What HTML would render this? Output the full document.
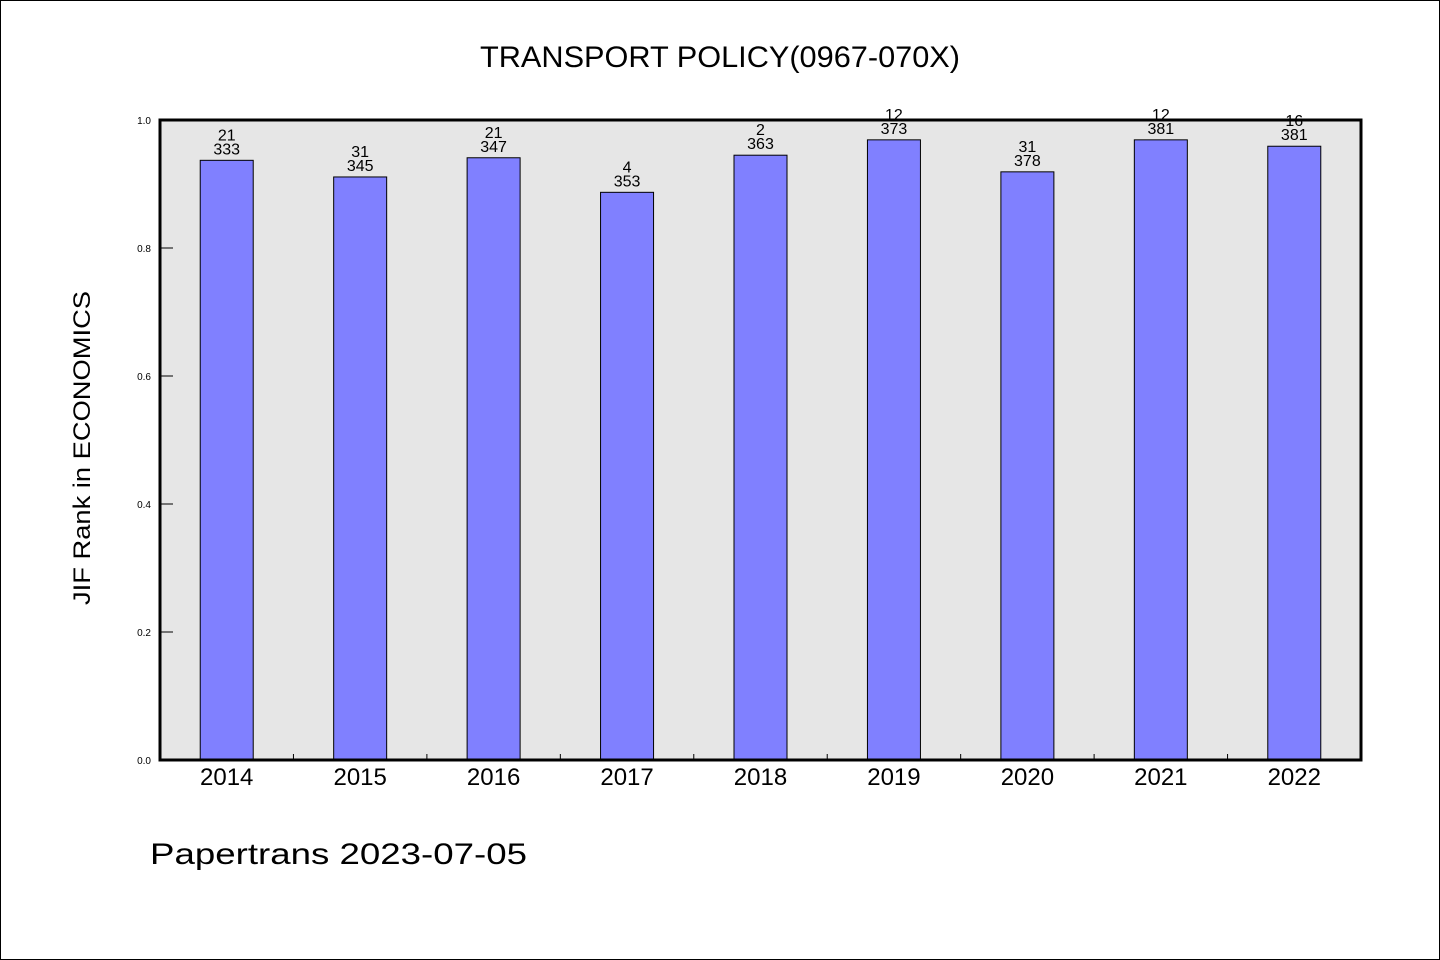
<!DOCTYPE html>
<html><head><meta charset="utf-8"><style>
html,body{margin:0;padding:0;background:#fff;}
svg{display:block;}
text{font-family:"WenQuanYi Zen Hei","Liberation Sans",sans-serif;fill:#000;}
</style></head><body>
<svg id="chart" width="1440" height="960">
<rect x="0.5" y="0.5" width="1439" height="959" fill="#fff" stroke="#000" stroke-width="1"/>
<text x="720" y="67" text-anchor="middle" font-size="30" textLength="480" lengthAdjust="spacingAndGlyphs">TRANSPORT POLICY(0967-070X)</text>
<rect x="160" y="120" width="1201" height="640" fill="#e6e6e6"/>
<g id="ticks"></g>
<g id="bars"></g>
<rect x="160" y="120" width="1201" height="640" fill="none" stroke="#000" stroke-width="3"/>
<text transform="translate(90,448) rotate(-90)" text-anchor="middle" font-size="24" textLength="314" lengthAdjust="spacingAndGlyphs">JIF Rank in ECONOMICS</text>
<text x="150" y="864" font-size="30" textLength="377" lengthAdjust="spacingAndGlyphs">Papertrans 2023-07-05</text>
</svg>
<script>
const years = ["2014","2015","2016","2017","2018","2019","2020","2021","2022"];
const values = [0.937, 0.911, 0.941, 0.887, 0.945, 0.969, 0.919, 0.969, 0.959];
const ranks = ["21","31","21","4","2","12","31","12","16"];
const totals = ["333","345","347","353","363","373","378","381","381"];
const yTicks = [0, 0.2, 0.4, 0.6, 0.8, 1.0];
const yTickLabels = ["0.0","0.2","0.4","0.6","0.8","1.0"];

const NS = "http://www.w3.org/2000/svg";
const X0 = 160, X1 = 1361, Y0 = 760, Y1 = 120;
const band = (X1 - X0) / years.length;
const xc = i => X0 + band * (i + 0.5);
const y = v => Y0 - (Y0 - Y1) * v;
function mk(tag, attrs, parent){const e=document.createElementNS(NS,tag);for(const k in attrs)e.setAttribute(k,attrs[k]);parent.appendChild(e);return e;}
const tg = document.getElementById("ticks"), bg = document.getElementById("bars");

yTicks.forEach((v,i)=>{
  const l = mk("line",{x1:X0,x2:X0+13,y1:y(v),y2:y(v),stroke:"#000","stroke-width":1},tg);
  
  
  const t = mk("text",{x:151,y:y(v)+4,"text-anchor":"end","font-size":10},tg);
  t.textContent = yTickLabels[i];
  
  
});
for(let i=1;i<years.length;i++){
  const xx = X0 + band*i;
  const l = mk("line",{x1:xx,x2:xx,y1:Y0,y2:Y0-6,stroke:"#000","stroke-width":1},tg);
  
  
}
const bw = 53;
years.forEach((yr,i)=>{
  const r = mk("rect",{x:xc(i)-bw/2,y:y(values[i]),width:bw,height:Y0-y(values[i]),fill:"#8080ff",stroke:"#000","stroke-width":1},bg);
  
  
  const t2 = mk("text",{x:xc(i),y:y(values[i])-6,"text-anchor":"middle","font-size":16},bg);
  t2.textContent = totals[i];
  
  
  const t1 = mk("text",{x:xc(i),y:y(values[i])-20,"text-anchor":"middle","font-size":16},bg);
  t1.textContent = ranks[i];
  
  
  const xl = mk("text",{x:xc(i),y:785,"text-anchor":"middle","font-size":24},bg);
  xl.textContent = yr;
  
  
});
</script>
</body></html>
